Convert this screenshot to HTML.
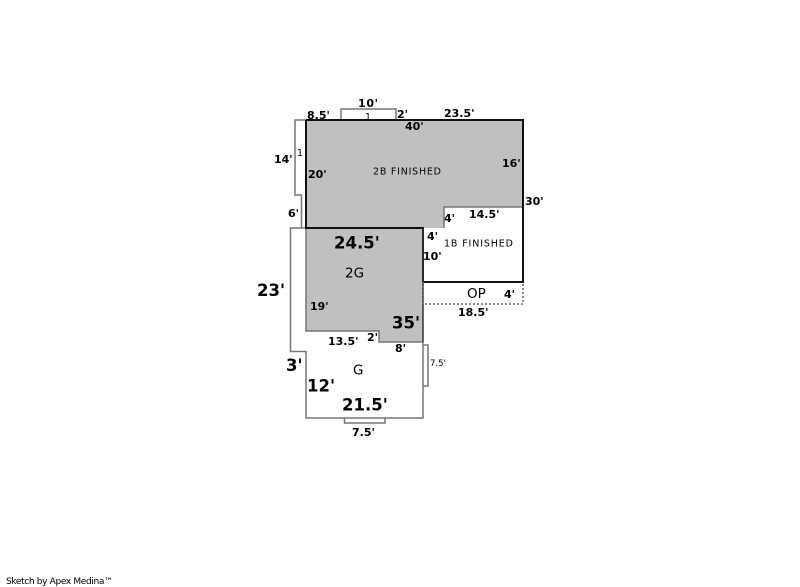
<!DOCTYPE html>
<html>
<head>
<meta charset="utf-8">
<style>
html,body{margin:0;padding:0;background:#fff;width:800px;height:587px;overflow:hidden}
svg{display:block}
text{font-family:"DejaVu Sans","Liberation Sans",sans-serif;fill:#000}
.bs{font-weight:bold;font-size:11px}
.l{font-weight:bold;font-size:16.5px}
</style>
</head>
<body>
<svg width="800" height="587" viewBox="0 0 800 587" xmlns="http://www.w3.org/2000/svg">
<!-- gray fills -->
<path d="M306 120H523V207H444V228H423V342H379V331H306Z" fill="#c0c0c0"/>
<!-- thin gray outlines -->
<g fill="none" stroke="#777" stroke-width="1.5">
<path d="M341 120V109H396V120"/>
<path d="M306 120H295V195H301.5V228"/>
<path d="M306 228H290.500V351.500H306V418H423V342"/>
<path d="M306 228V331H379V342H423"/>
<path d="M423 345H428V386H423"/>
<path d="M344.500 418V423H385V418"/>
<path d="M444 228V207H523"/>
</g>
<!-- black walls -->
<g fill="none" stroke="#111" stroke-width="2">
<path d="M306 120H523V282H423V228H306V120"/>
</g>
<path d="M423 228V342" stroke="#333" stroke-width="1.500" fill="none"/>
<!-- dotted porch -->
<path d="M423 282V304H523V282" fill="none" stroke="#666" stroke-width="1.500" stroke-dasharray="2 2"/>
<!-- labels -->
<text class="bs" x="358" y="107" textLength="20">10'</text>
<text x="365" y="120" font-size="9.500">1</text>
<text class="bs" x="307" y="119">8.5'</text>
<text class="bs" x="397" y="118">2'</text>
<text class="bs" x="444" y="117">23.5'</text>
<text class="bs" x="405" y="130">40'</text>
<text x="297" y="156" font-size="9.500">1</text>
<text class="bs" x="274" y="163">14'</text>
<text class="bs" x="308" y="178">20'</text>
<text x="373" y="174.500" font-size="9.500" textLength="68">2B FINISHED</text>
<text class="bs" x="502" y="167">16'</text>
<text class="bs" x="525" y="205">30'</text>
<text class="bs" x="288" y="217">6'</text>
<text class="bs" x="444" y="222">4'</text>
<text class="bs" x="469" y="218">14.5'</text>
<text class="bs" x="427" y="240">4'</text>
<text x="444" y="246.500" font-size="9.500" textLength="69">1B FINISHED</text>
<text class="bs" x="423" y="260">10'</text>
<text class="l" x="334" y="248.500">24.5'</text>
<text x="345" y="277.500" font-size="13.500" fill="#333">2G</text>
<text class="l" x="257" y="296">23'</text>
<text class="bs" x="310" y="310">19'</text>
<text x="467" y="298" font-size="13.500" fill="#333">OP</text>
<text class="bs" x="504" y="298">4'</text>
<text class="bs" x="458" y="316">18.5'</text>
<text class="l" x="392" y="328.500">35'</text>
<text class="bs" x="328" y="345">13.5'</text>
<text class="bs" x="367" y="341">2'</text>
<text class="bs" x="395" y="352">8'</text>
<text x="430" y="366" font-size="8.500" fill="#444">7.5'</text>
<text class="l" x="286" y="371">3'</text>
<text x="353" y="374.500" font-size="13.500" fill="#333">G</text>
<text class="l" x="307" y="391.500">12'</text>
<text class="l" x="342" y="410.500">21.5'</text>
<text class="bs" x="352" y="436">7.5'</text>
<text x="6" y="584" font-size="9" fill="#111" textLength="107">Sketch by Apex Medina™</text>
</svg>
</body>
</html>
